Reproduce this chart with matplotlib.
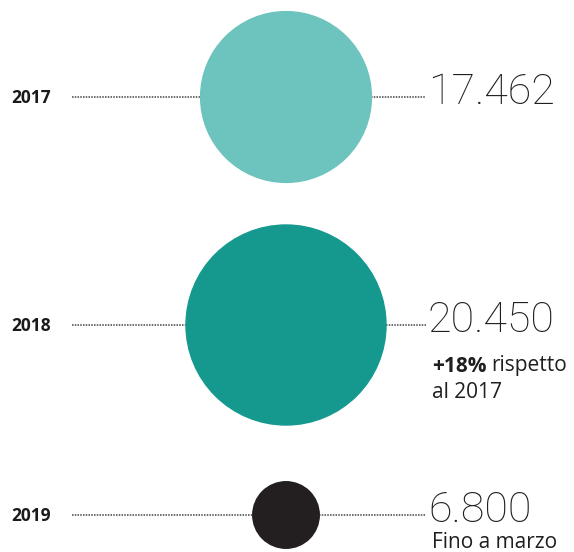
import matplotlib.pyplot as plt
from matplotlib.patches import Circle

years = ['2017', '2018', '2019']
values = [17462, 20450, 6800]
value_labels = ['17.462', '20.450', '6.800']
colors = ['#6dc3bd', '#15998f', '#231f20']

# layout in pixel units
row_y = [97, 325, 515]
cx = 286
px_per_unit = 1 / 204.5   # radius proportional to value
line_start = 72
line_end = 426
txt = '#1f1f1f'

fig = plt.figure(figsize=(5.74, 5.52), dpi=100)
ax = fig.add_axes([0, 0, 1, 1])
ax.set_xlim(0, 574)
ax.set_ylim(552, 0)
ax.set_aspect('equal')
ax.axis('off')

for yr, v, lab, c, y in zip(years, values, value_labels, colors, row_y):
    r = v * px_per_unit
    ax.plot([line_start, cx - r], [y, y], color='#444444', lw=1.1, ls=(0, (1, 0.8)))
    ax.plot([cx + r, line_end], [y, y], color='#444444', lw=1.1, ls=(0, (1, 0.8)))
    ax.add_patch(Circle((cx, y), r, color=c, zorder=3))
    ax.text(11, y + 1, yr, fontsize=12.5, fontweight='bold', family='Open Sans',
            va='center', ha='left', color='#1a1a1a')
    ax.text(428, y - 5, lab, fontsize=31, fontweight='light', family='Roboto',
            va='center', ha='left', color=txt)

fig.canvas.draw()
t1 = ax.text(432, 366, '+18%', fontsize=15, fontweight='bold', family='Open Sans',
             va='center', ha='left', color=txt)
bb = t1.get_window_extent(fig.canvas.get_renderer())
ax.annotate('rispetto', xy=(1, 0.5), xycoords=t1, xytext=(5, 0), textcoords='offset pixels',
            fontsize=15, family='Open Sans', va='center', ha='left', color=txt)
ax.text(432, 392, 'al 2017', fontsize=15, family='Open Sans',
        va='center', ha='left', color=txt)
ax.text(432, 542, 'Fino a marzo', fontsize=15, family='Open Sans',
        va='center', ha='left', color=txt)

fig.savefig('out.png', dpi=100)
